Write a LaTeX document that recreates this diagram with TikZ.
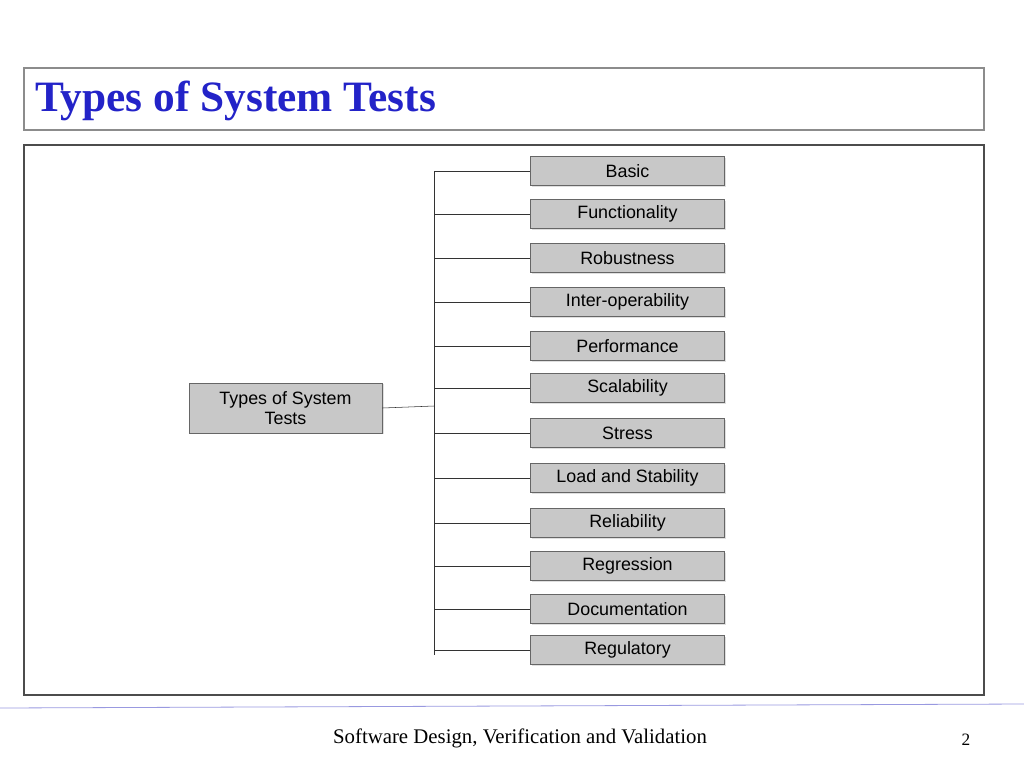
\documentclass[tikz,border=0pt]{standalone}
\usepackage{fontspec}
\setmainfont{Liberation Serif}
\newfontfamily\arialfont{Liberation Sans}
\usetikzlibrary{shadows}
\definecolor{boxgray}{HTML}{C8C8C8}
\definecolor{titleblue}{HTML}{2323C8}
\tikzset{
  testbox/.style={draw=black!60, fill=boxgray, minimum width=145.5pt, minimum height=22pt,
    inner sep=0pt, font=\arialfont\fontsize{13.4}{16}\selectfont, drop shadow={shadow xshift=1pt, shadow yshift=-1pt, fill=black!25}},
  frame/.style={draw=black!45, line width=0.8pt}
}
\begin{document}
\begin{tikzpicture}[x=0.75pt,y=-0.75pt]
    \useasboundingbox (0,0) rectangle (1024,768);

    % Title bar
    \draw[frame] (24,68) rectangle (984,130);
    \node[anchor=west, text=titleblue, font=\bfseries\fontsize{32.5}{36}\selectfont, inner sep=0pt] (title) at (35,101) {Types of System Tests};

    % Content frame
    \draw[frame, draw=black!70] (24,145) rectangle (984,695);

    % Root
    \node[testbox, minimum width=145pt, minimum height=37.5pt, align=center] (root) at (285.5,408) {Types of System\\[-1pt]Tests};

    % Branches
    \coordinate (trunktop) at (434,171);
    \coordinate (trunkbot) at (434,655);
    \draw[black!80] (trunktop) -- (trunkbot);
    \draw[black!80] (root.east) -- (434,406);
    \foreach \y/\name [count=\i] in {171/Basic, 214/Functionality, 258/Robustness, 302/Inter-operability,
        346/Performance, 388/Scalability, 433/Stress, 478/Load and Stability, 523/Reliability,
        566/Regression, 609/Documentation, 650/Regulatory} {
      \node[testbox] (b\i) at (627.5,\y) {\name};
      \draw[black!80] (434,\y) -- (b\i.west);
    }

    % Footer
    \draw[black!30!blue!40, line width=0.6pt] (0,708) -- (1024,704);
    \node[font=\fontsize{15.6}{18}\selectfont] (footer) at (520,738) {Software Design, Verification and Validation};
    \node[font=\fontsize{13}{15}\selectfont] (page) at (966,740) {2};
\end{tikzpicture}
\end{document}
